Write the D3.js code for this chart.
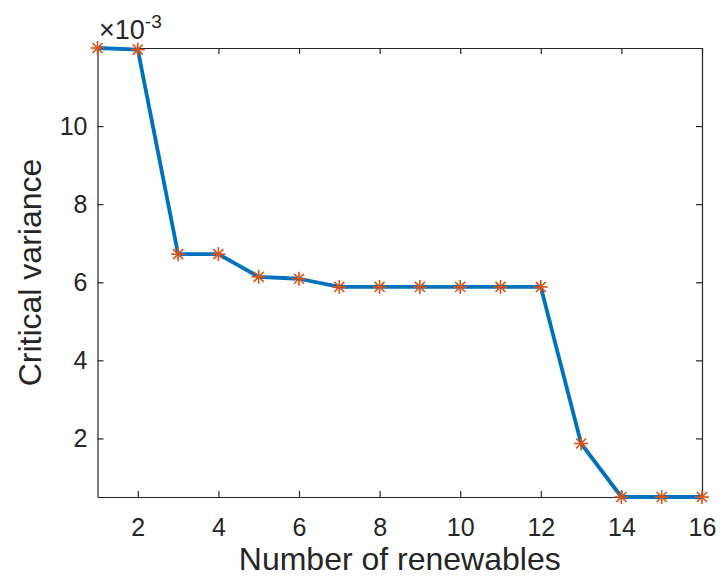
<!DOCTYPE html>
<html>
<head>
<meta charset="utf-8">
<script src="https://cdn.jsdelivr.net/npm/d3@7"></script>
<style>
  body { margin: 0; background: #fff; }
  text { font-family: "Liberation Sans", Arial, Helvetica, sans-serif; fill: #262626; }
</style>
</head>
<body>
<script>
// data (critical variance, x 1e-3)
var renewables = [1, 2, 3, 4, 5, 6, 7, 8, 9, 10, 11, 12, 13, 14, 15, 16];
var critVariance = [12.0, 11.96, 6.72, 6.72, 6.14, 6.09, 5.88, 5.88, 5.88, 5.88, 5.88, 5.88, 1.87, 0.5, 0.5, 0.5];
var xTicks = [2, 4, 6, 8, 10, 12, 14, 16];
var yTicks = [2, 4, 6, 8, 10];

var svgWidth = 722;
var svgHeight = 588;
var margin = { top: 48, right: 20, bottom: 91, left: 97.5 };
var width = 702 - margin.left;
var height = 497 - margin.top;

var svg = d3.select("body").append("svg").attr("width", svgWidth).attr("height", svgHeight);
var chartGroup = svg.append("g").attr("transform", `translate(${margin.left}, ${margin.top})`);

var xScale = d3.scaleLinear().domain([1, 16]).range([0, width]);
var yScale = d3.scaleLinear().domain([0.5, 12]).range([height, 0]);

var tickLen = 6;

// axes (MATLAB style: inward ticks, box with mirrored ticks)
var bottomAxis = d3.axisBottom(xScale).tickValues(xTicks).tickSizeInner(-tickLen).tickSizeOuter(0).tickPadding(21);
var topAxis = d3.axisTop(xScale).tickValues(xTicks).tickSizeInner(-tickLen).tickSizeOuter(0).tickFormat("");
var leftAxis = d3.axisLeft(yScale).tickValues(yTicks).tickSizeInner(-tickLen).tickSizeOuter(0).tickPadding(10);
var rightAxis = d3.axisRight(yScale).tickValues(yTicks).tickSizeInner(-tickLen).tickSizeOuter(0).tickFormat("");

var gx = chartGroup.append("g").attr("transform", `translate(0, ${height})`).call(bottomAxis);
var gt = chartGroup.append("g").call(topAxis);
var gy = chartGroup.append("g").call(leftAxis);
var gr = chartGroup.append("g").attr("transform", `translate(${width}, 0)`).call(rightAxis);

[gx, gt, gy, gr].forEach(function(g) {
  g.select(".domain").attr("stroke", "#262626").attr("stroke-width", 1.2);
  g.selectAll(".tick line").attr("stroke", "#262626").attr("stroke-width", 1.2);
  g.selectAll(".tick text").attr("fill", "#262626").style("font-size", "25px")
    .style("font-family", "'Liberation Sans', Arial, sans-serif");
});

// line
var line = d3.line()
  .x(function(d, i) { return xScale(renewables[i]); })
  .y(function(d) { return yScale(d); });

chartGroup.append("path")
  .datum(critVariance)
  .attr("fill", "none")
  .attr("stroke", "#0072BD")
  .attr("stroke-width", 3.8)
  .attr("stroke-linejoin", "round")
  .attr("d", line);

// asterisk markers
var markers = chartGroup.selectAll(".marker")
  .data(critVariance)
  .enter()
  .append("g")
  .attr("class", "marker")
  .attr("transform", function(d, i) { return `translate(${xScale(renewables[i])}, ${yScale(d)})`; });

var r = 7;
[[-r, 0, r, 0], [0, -r, 0, r], [-r * 0.72, -r * 0.72, r * 0.72, r * 0.72], [-r * 0.72, r * 0.72, r * 0.72, -r * 0.72]].forEach(function(s) {
  markers.append("line")
    .attr("x1", s[0]).attr("y1", s[1]).attr("x2", s[2]).attr("y2", s[3])
    .attr("stroke", "#D95319").attr("stroke-width", 1.6);
});

// exponent label
var expo = svg.append("text").attr("x", 99).attr("y", 39).style("font-size", "27px");
expo.append("tspan").text("\u00d710");
expo.append("tspan").attr("dy", -11).style("font-size", "19px").text("-3");

// axis labels
svg.append("text")
  .attr("transform", `translate(${margin.left + width / 2}, 570)`)
  .attr("text-anchor", "middle")
  .style("font-size", "32px")
  .text("Number of renewables");

svg.append("text")
  .attr("transform", `translate(41, ${margin.top + height / 2}) rotate(-90)`)
  .attr("text-anchor", "middle")
  .style("font-size", "32px")
  .text("Critical variance");
</script>
</body>
</html>
